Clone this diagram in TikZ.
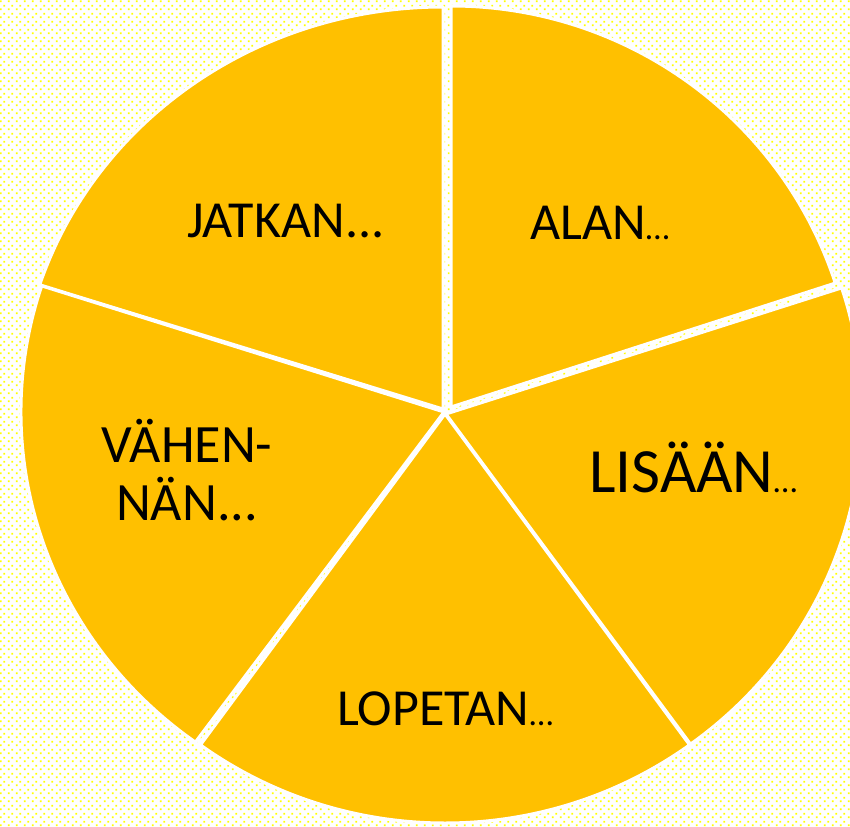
\documentclass[tikz,border=0pt]{standalone}
\usepackage{fontspec}
\setmainfont{Carlito}
\usetikzlibrary{patterns.meta}

\definecolor{piegold}{HTML}{FFC000}
\definecolor{dotyellow}{HTML}{FFFF00}

\tikzdeclarepattern{
  name=bgdots,
  type=uncolored,
  bottom left={(0pt,0pt)},
  top right={(8pt,8pt)},
  tile size={(8pt,8pt)},
  code={
    \fill (1pt,1pt) rectangle (3pt,3pt);
    \fill (5pt,5pt) rectangle (7pt,7pt);
  }
}

\newcommand{\pieslice}[6]{%
  \draw[slice] (#1,#2) -- ++(#5:#3 and #4) arc[start angle=#5, end angle=#6, x radius=#3, y radius=#4] -- cycle;}
\newcommand{\smalldots}{{\fontsize{34}{34}\selectfont …}}

\begin{document}
\begin{tikzpicture}[x=1pt, y=-1pt, slice/.style={fill=piegold, draw=white, line width=3pt, line join=round}, slicetext/.style={font=\fontsize{52}{58}\selectfont, inner sep=0pt, text=black}]
\useasboundingbox (0,0) rectangle (850,826);
\clip (0,0) rectangle (850,826);
\fill[white] (0,0) rectangle (850,826);
\fill[pattern=bgdots, pattern color=dotyellow] (0,0) rectangle (850,826);

\pieslice{443}{409}{424}{402}{198}{270}
\pieslice{444}{412}{423}{408}{126}{198}
\pieslice{445}{414}{416}{409}{54}{126}
\pieslice{446}{414}{416}{408}{-18}{54}
\pieslice{451}{407}{404}{401}{-90}{-18}

\node[slicetext, anchor=base west] (jatkan) at (187,237) {JATKAN...};
\node[slicetext, anchor=base west] (alan) at (530,240) {ALAN\smalldots};
\node[slicetext, anchor=base west, font=\fontsize{63}{70}\selectfont] (lisaan) at (589,492) {LISÄÄN\smalldots};
\node[slicetext, anchor=base, font=\fontsize{54}{58}\selectfont] (vahen) at (187,462) {VÄHEN-};
\node[slicetext, anchor=base, font=\fontsize{54}{58}\selectfont] (nan) at (187,520) {NÄN...};
\node[slicetext, anchor=base west] (lopetan) at (337,725) {LOPETAN\smalldots};

\end{tikzpicture}
\end{document}
